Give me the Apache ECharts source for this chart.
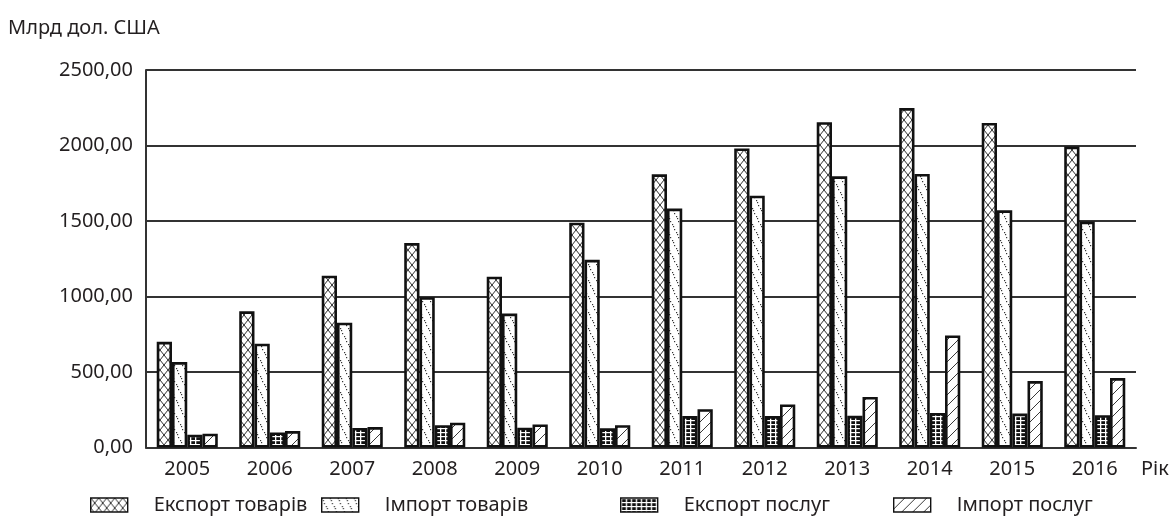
<!DOCTYPE html>
<html><head><meta charset="utf-8">
<script src="https://cdn.jsdelivr.net/npm/echarts@6/dist/echarts.min.js"></script>
<style>html,body{margin:0;padding:0;background:#fff}#c{width:1173px;height:526px}</style>
</head><body><div id="c"></div>
<script>
const years = ['2005','2006','2007','2008','2009','2010','2011','2012','2013','2014','2015','2016'];
const seriesNames = ['Експорт товарів','Імпорт товарів','Експорт послуг','Імпорт послуг'];
const exportGoods   = [700, 902, 1138, 1354, 1131, 1489, 1809, 1980, 2154, 2248, 2149, 1993];
const importGoods   = [566, 687, 826, 995, 887, 1243, 1582, 1668, 1796, 1812, 1571, 1496];
const exportServices= [85, 100, 129, 148, 131, 127, 208, 208, 210, 229, 225, 214];
const importServices= [91, 109, 135, 164, 153, 148, 254, 285, 335, 742, 440, 460];
const yTicks = { min: 0, max: 2500, interval: 500 };
const yUnit = 'Млрд дол. США';
const xUnit = 'Рік';

function tile(w, h, draw) {
  const c = document.createElement('canvas'); c.width = w; c.height = h;
  const g = c.getContext('2d'); draw(g, w, h); return c;
}
const patCross = tile(8, 10, (g, w, h) => {
  g.fillStyle = '#fff'; g.fillRect(0, 0, w, h);
  g.strokeStyle = '#1a1a1a'; g.lineWidth = 0.9;
  g.beginPath(); g.moveTo(0, 0); g.lineTo(w, h); g.moveTo(w, 0); g.lineTo(0, h); g.stroke();
});
const patDots = tile(8, 16, (g, w, h) => {
  g.fillStyle = '#fff'; g.fillRect(0, 0, w, h);
  g.fillStyle = '#333';
  for (let i = 0; i < 6; i++) g.fillRect(Math.floor(i * 8 / 6), Math.floor(i * 16 / 6), 1.2, 1.2);
});
const patGrid = tile(5, 4, (g, w, h) => {
  g.fillStyle = '#111'; g.fillRect(0, 0, w, h);
  g.fillStyle = '#fff'; g.fillRect(0, 0, 1.3, h); g.fillRect(0, 0, w, 1.2);
});
const patSlash = tile(11, 11, (g, w, h) => {
  g.fillStyle = '#fff'; g.fillRect(0, 0, w, h);
  g.strokeStyle = '#222'; g.lineWidth = 0.9;
  g.beginPath(); g.moveTo(0, h); g.lineTo(w, 0); g.moveTo(-1, 1); g.lineTo(1, -1); g.moveTo(w - 1, h + 1); g.lineTo(w + 1, h - 1); g.stroke();
});
const patterns = [patCross, patDots, patGrid, patSlash];
const dataSets = [exportGoods, importGoods, exportServices, importServices];

const font = 'Noto Sans';
const fs = 20;
const ink = '#231f20';
const legendLeft = [90, 321, 620, 893];

const chart = echarts.init(document.getElementById('c'), null, { renderer: 'canvas' });
chart.setOption({
  animation: false,
  backgroundColor: '#fff',
  textStyle: { fontFamily: font, color: ink },
  title: { text: yUnit, left: 3, top: 13, textStyle: { fontFamily: font, fontWeight: 'normal', fontSize: fs, color: ink } },
  grid: { left: 146, right: 37, top: 70, bottom: 78.5, containLabel: false },
  legend: seriesNames.map((n, i) => ({
    data: [n], left: legendLeft[i], top: 495, padding: 0, itemWidth: 37, itemHeight: 14, icon: 'rect',
    textStyle: { fontFamily: font, fontSize: fs, color: ink, padding: [0, 0, 0, 21] },
    itemStyle: { borderWidth: 1.4, borderColor: '#111' },
    selectedMode: false
  })),
  xAxis: {
    type: 'category', data: years,
    name: xUnit, nameLocation: 'end', nameGap: 5,
    nameTextStyle: { fontFamily: font, fontSize: fs, color: ink, verticalAlign: 'top', padding: [12, 0, 0, 0] },
    axisLine: { show: true, lineStyle: { color: '#333', width: 2 } },
    axisTick: { show: false },
    axisLabel: { fontFamily: font, fontSize: fs, color: ink, margin: 12 }
  },
  yAxis: {
    type: 'value', min: yTicks.min, max: yTicks.max, interval: yTicks.interval,
    axisLine: { show: true, lineStyle: { color: '#333', width: 2 } },
    axisTick: { show: false },
    splitLine: { show: true, lineStyle: { color: '#333', width: 2 } },
    axisLabel: { fontFamily: font, fontSize: fs, color: ink, margin: 13,
      formatter: v => v.toFixed(2).replace('.', ',') }
  },
  series: dataSets.map((d, i) => ({
    type: 'bar', name: seriesNames[i], data: d,
    barGap: '0%', barCategoryGap: '26%',
    itemStyle: { color: { image: patterns[i], repeat: 'repeat' }, borderColor: '#111', borderWidth: 2.6 }
  }))
});
</script></body></html>
